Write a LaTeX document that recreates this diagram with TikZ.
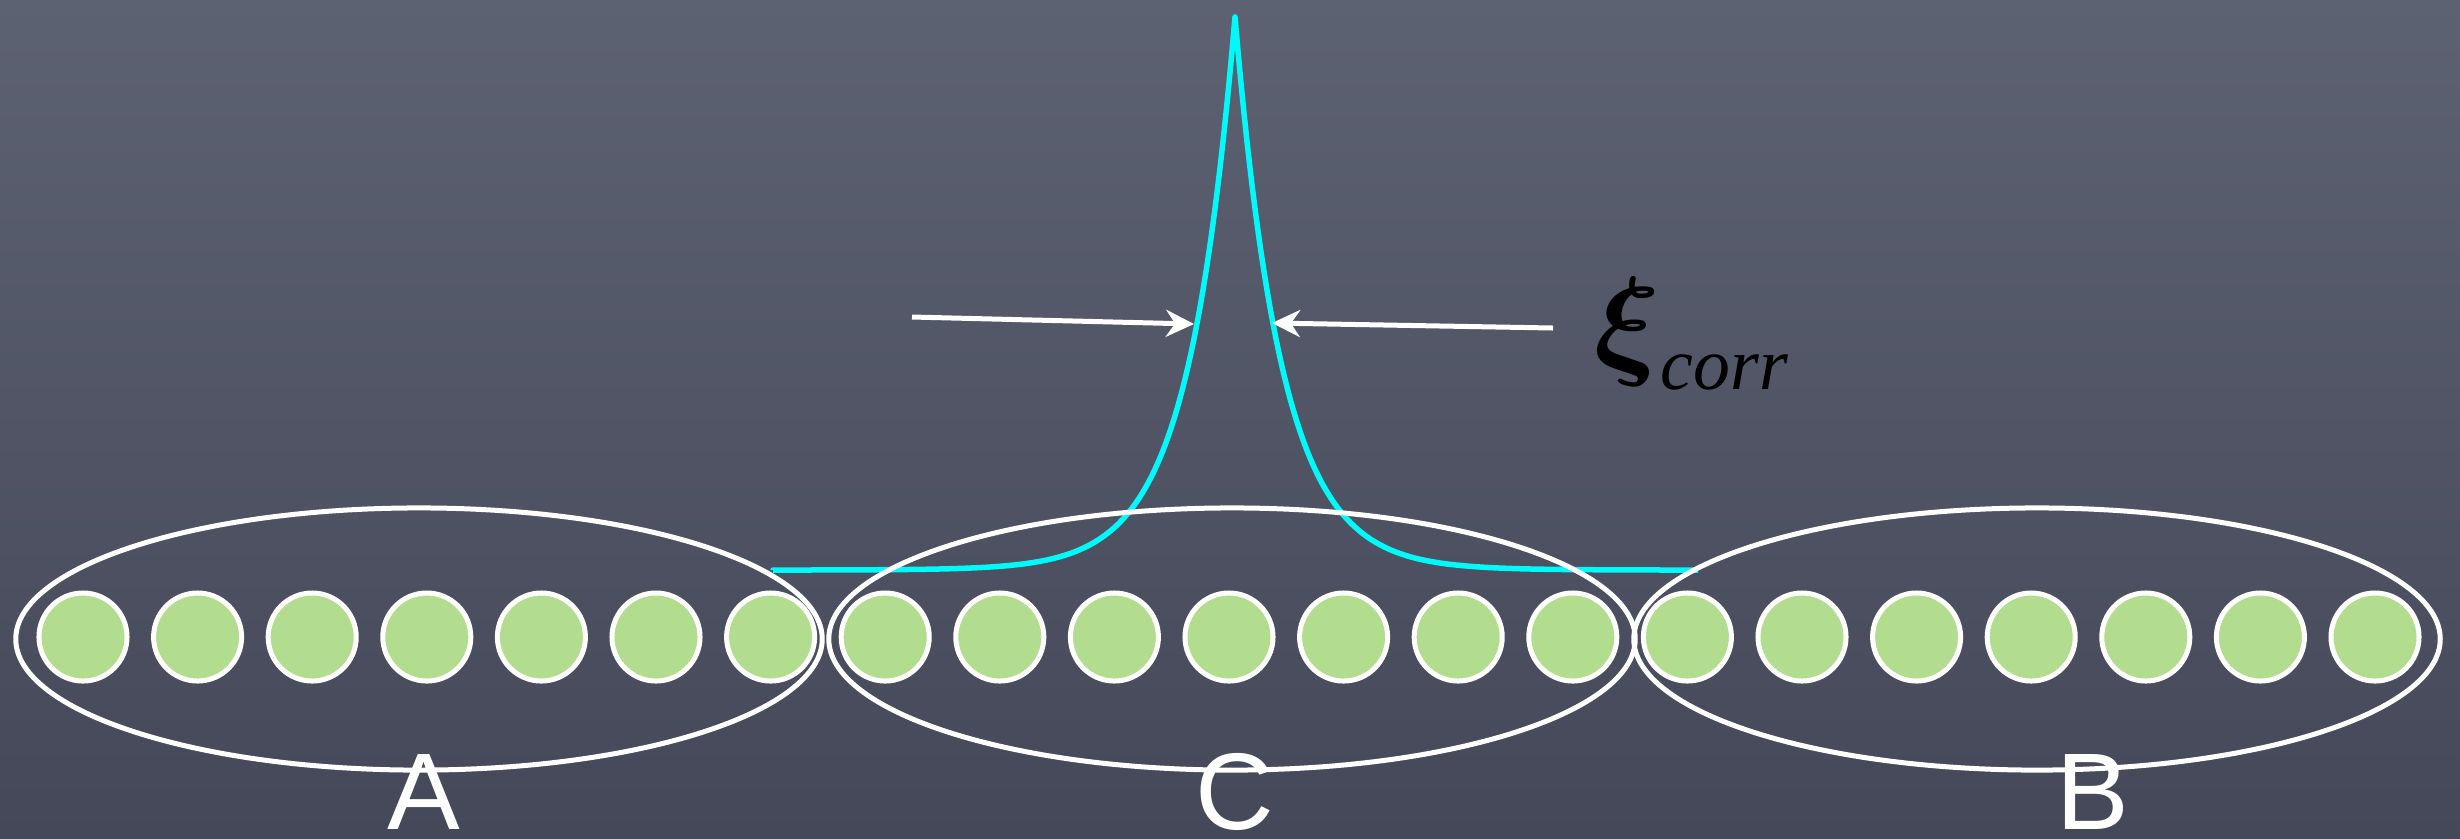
\documentclass[tikz,border=0pt]{standalone}
\usepackage{fontspec}
\setmainfont{Liberation Sans}
\newfontfamily\xiserif{Liberation Serif}
\usetikzlibrary{arrows.meta,shapes.geometric}
\definecolor{bgtop}{RGB}{93,98,115}
\definecolor{bgbot}{RGB}{68,72,88}
\definecolor{leaf}{RGB}{178,220,142}
\definecolor{cyanline}{RGB}{0,250,250}
\begin{document}
\begin{tikzpicture}[x=0.01cm,y=-0.01cm,
  site/.style={circle, draw=white, line width=0.05cm, fill=leaf, minimum size=0.88cm, inner sep=0pt},
  region/.style={ellipse, draw=white, line width=0.05cm, minimum width=8.06cm, minimum height=2.62cm, inner sep=0pt},
  lbl/.style={text=white, font=\fontsize{31}{31}\selectfont, inner sep=0pt, anchor=base},
  arr/.style={draw=white, line width=0.05cm, -{Stealth[length=0.28cm, width=0.27cm]}},
  corr/.style={cyanline, line width=0.055cm, line join=round}]
\useasboundingbox (0,0) rectangle (2460,838);
\shade[top color=bgtop, bottom color=bgbot] (0,0) rectangle (2460,838);
% correlation profile
\draw[corr] (773,570)
  -- plot[domain=773:1235, samples=160] (\x,{570-553*exp(-abs(\x-1235)/47)})
  -- plot[domain=1235:1698, samples=160] (\x,{570-553*exp(-abs(\x-1235)/47)});
% regions
\node[region] (eA) at (419,639) {};
\node[region] (eC) at (1232,639) {};
\node[region] (eB) at (2037,639) {};
% sites
\foreach \i in {1,...,21}{
  \node[site] (c\i) at ({83+114.6*(\i-1)},637) {};
}
% labels
\node[lbl] (lA) at (424,829) {A};
\node[lbl] (lC) at (1235,829) {C};
\node[lbl] (lB) at (2093,829) {B};
% width arrows
\coordinate (la0) at (912,317);
\coordinate (la1) at (1194,324);
\coordinate (ra0) at (1553,328);
\coordinate (ra1) at (1272,323);
\draw[arr] (la0) -- (la1);
\draw[arr] (ra0) -- (ra1);
\node[anchor=base west, inner sep=0pt, text=black] (xi) at (1594,362)
  {\fontsize{24}{24}\selectfont\scalebox{1.4}{\boldmath$\xi$}\raisebox{-7.7pt}{\xiserif\itshape\fontsize{21}{21}\selectfont corr}};
\end{tikzpicture}
\end{document}
